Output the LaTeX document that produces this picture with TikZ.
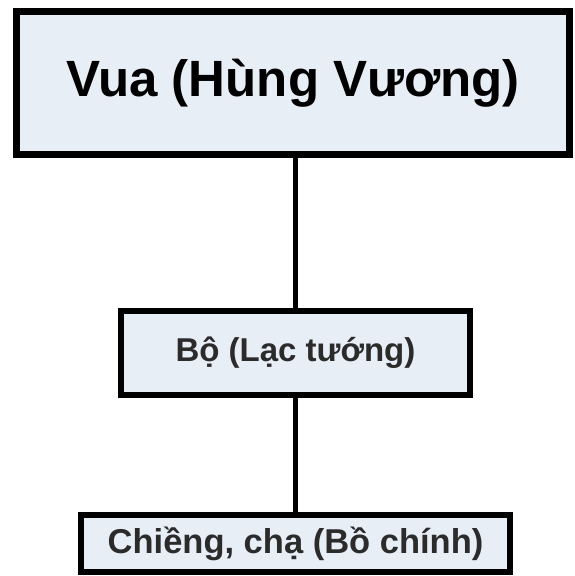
\documentclass[tikz,border=0pt]{standalone}
\usepackage{fontspec}
\setmainfont{Liberation Sans}
\definecolor{boxfill}{HTML}{E8EEF6}
\definecolor{boxtext}{HTML}{2B2B2B}

\begin{document}
\begin{tikzpicture}[x=1pt,y=1pt,
    rank/.style={draw=black, fill=boxfill, rectangle, inner sep=0pt, font=\bfseries},
    link/.style={line width=5pt}]
    \useasboundingbox (0,0) rectangle (574,-576);
    \node[rank, line width=7pt, minimum width=553pt, minimum height=143pt,
        font=\fontsize{51}{60}\bfseries\selectfont, text=black] (vua) at (293,-83) {Vua (Hùng Vương)};
    \node[rank, line width=6pt, minimum width=349pt, minimum height=84pt,
        font=\fontsize{33}{38}\bfseries\selectfont, text=boxtext] (bo) at (295.5,-353) {Bộ (Lạc tướng)};
    \node[rank, line width=6pt, minimum width=429pt, minimum height=57pt,
        font=\fontsize{34.5}{40}\bfseries\selectfont, text=boxtext] (chieng) at (295.5,-543.5) {Chiềng, chạ (Bồ chính)};
    \draw[link] (bo.north) -- (bo.north |- vua.south);
    \draw[link] (bo.south) -- (chieng.north);
\end{tikzpicture}
\end{document}
